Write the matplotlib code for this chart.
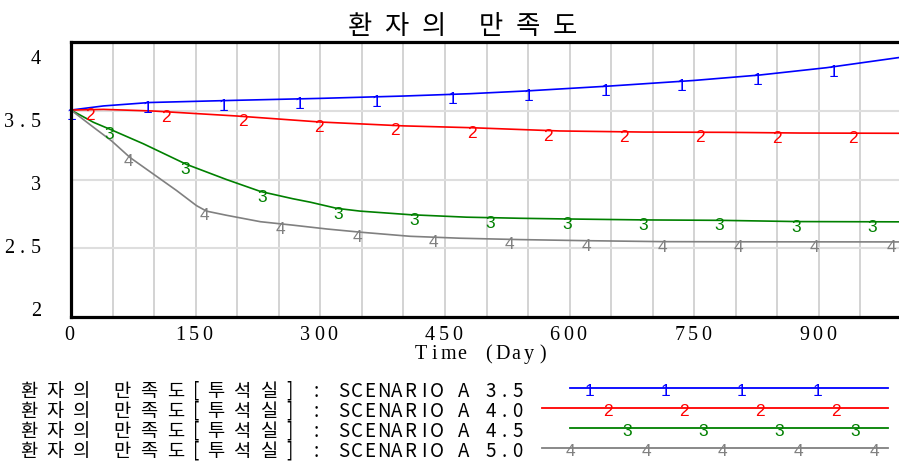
import numpy as np
import matplotlib
matplotlib.use("Agg")
import matplotlib.pyplot as plt
from matplotlib.transforms import IdentityTransform
from matplotlib.lines import Line2D
from matplotlib import font_manager

# ---- data -------------------------------------------------------------
title = "환자의 만족도"
x_label = "Time (Day)"
x_ticks = [0, 150, 300, 450, 600, 750, 900]
y_ticks = [2, 2.5, 3, 3.5, 4]
y_tick_labels = ["2", "2.5", "3", "3.5", "4"]

series_names = [
    "환자의 만족도[투석실] : SCENARIO A 3.5",
    "환자의 만족도[투석실] : SCENARIO A 4.0",
    "환자의 만족도[투석실] : SCENARIO A 4.5",
    "환자의 만족도[투석실] : SCENARIO A 5.0",
]
series_colors = ["#0000ff", "#ff0000", "#008000", "#808080"]

days_a35 = [0, 39, 95, 199, 300, 400, 480, 548, 649, 749, 829, 909, 1000]
sat_a35 = [3.505, 3.535, 3.56, 3.576, 3.59, 3.607, 3.624, 3.644, 3.68, 3.72,
           3.76, 3.813, 3.89]

days_a40 = [0, 39, 99, 199, 300, 400, 480, 588, 689, 789, 877, 1000]
sat_a40 = [3.505, 3.51, 3.498, 3.462, 3.418, 3.39, 3.377, 3.353, 3.345, 3.343,
           3.338, 3.336]

days_a45 = [0, 27, 49, 87, 139, 187, 228, 267, 288, 320, 348, 408, 476, 540,
            596, 690, 781, 874, 1000]
sat_a45 = [3.505, 3.416, 3.36, 3.26, 3.11, 3.0, 2.913, 2.86, 2.835, 2.79, 2.77,
           2.744, 2.726, 2.718, 2.713, 2.706, 2.703, 2.694, 2.692]

days_a50 = [0, 27, 49, 71, 99, 127, 151, 163, 187, 228, 267, 308, 348, 408,
            468, 540, 621, 712, 800, 1000]
sat_a50 = [3.505, 3.38, 3.28, 3.16, 3.04, 2.92, 2.81, 2.77, 2.74, 2.693, 2.668,
           2.64, 2.617, 2.587, 2.573, 2.563, 2.555, 2.548, 2.547, 2.546]

series_days = [days_a35, days_a40, days_a45, days_a50]
series_vals = [sat_a35, sat_a40, sat_a45, sat_a50]

# ---- figure -----------------------------------------------------------
W, H, DPI = 899, 464, 100
fig = plt.figure(figsize=(W / DPI, H / DPI), dpi=DPI)
fig.patch.set_facecolor("white")

ax = fig.add_axes([71 / W, (H - 318) / H, 831 / W, 275 / H])
ax.set_xlim(0, 1000)
ax.set_ylim(2, 4)
ax.set_xticks([])
ax.set_yticks([])
for side in ("left", "bottom", "top"):
    ax.spines[side].set_linewidth(2.3)
    ax.spines[side].set_color("black")
    ax.spines[side].set_zorder(5)
ax.spines["right"].set_visible(False)

# grid
for gx in np.arange(50, 1000, 50):
    ax.axvline(gx, color="#c8c8c8", lw=1.1, zorder=0)
for gy in y_ticks[1:-1]:
    ax.axhline(gy, color="#dedede", lw=1.5, zorder=0)

PX = 72 / DPI  # points per pixel


def is_hangul(c):
    return "\uac00" <= c <= "\ud7a3"


def spaced_text(x, yc, s, widths, size, family, color="black", ha="left",
                vfrac=0.36):
    """Draw text char by char on a fixed pitch, in display pixels.
    yc is the visual centre of the glyphs."""
    ws = [widths(c) for c in s]
    total = sum(ws)
    if ha == "center":
        x0 = x - total / 2
    elif ha == "right":
        x0 = x - total
    else:
        x0 = x
    size_px = size / PX
    base = yc - vfrac * size_px
    pos = x0
    for c, w in zip(s, ws):
        if c != " ":
            fam = family(c) if callable(family) else family
            fig.text(pos + w / 2, base, c, transform=IdentityTransform(),
                     ha="center", va="baseline", fontsize=size,
                     family=fam, color=color)
        pos += w


def axis_w(c):
    return 13.5


SERIF = ["Liberation Serif", "DejaVu Serif"]
AXIS_FS = 14.5

# x tick labels
for v in x_ticks:
    xd, yd = ax.transData.transform((v, 2))
    spaced_text(xd - 1.5, H - 333.5, str(v), axis_w, AXIS_FS, SERIF,
                ha="center", vfrac=0.33)

# y tick labels
ax_mid = ax.transData.transform((0, 3))[1]
for v, lab in zip(y_ticks, y_tick_labels):
    yd = ax.transData.transform((0, v))[1]
    yc = ax_mid + (yd - ax_mid) * 0.917 - 2.5
    spaced_text(42.5, yc, lab, axis_w, AXIS_FS, SERIF, ha="right",
                vfrac=0.33)

# axis label
spaced_text(482, H - 352.5, x_label, axis_w, AXIS_FS, SERIF, ha="center",
            vfrac=0.33)

# title
KR = ["Noto Sans CJK KR", "DejaVu Sans"]


def title_w(c):
    if is_hangul(c):
        return 37
    return 20


spaced_text(462, H - 24.5, title, title_w, 19, KR, ha="center", vfrac=0.37)

# ---- series -----------------------------------------------------------
MARK_STEP = 91.8
MARK_SHIFT = 23
for i, (d, v, col) in enumerate(zip(series_days, series_vals, series_colors)):
    ax.plot(d, v, color=col, lw=1.2, zorder=3, solid_joinstyle="miter")
    for t in np.arange(i * MARK_SHIFT, 1000, MARK_STEP):
        val = np.interp(t, d, v)
        ax.annotate(str(i + 1), (t, val), xytext=(0, -4.5),
                    textcoords="offset pixels", ha="center", va="center",
                    fontsize=12.5, family="Liberation Sans", color=col,
                    zorder=4, annotation_clip=True)


# ---- legend -----------------------------------------------------------
installed = {f.name for f in font_manager.fontManager.ttflist}
NARROW = ("Liberation Sans Narrow" if "Liberation Sans Narrow" in installed
          else "Noto Sans CJK KR")


def legend_w(c):
    if is_hangul(c):
        return 26.8
    return 13.4


def legend_family(c):
    if is_hangul(c):
        return KR
    return [NARROW, "Noto Sans CJK KR"]


legend_rows = [389, 409, 429, 449]
legend_line_start = [570, 542, 570, 542]
for i, (name, col) in enumerate(zip(series_names, series_colors)):
    yrow = H - legend_rows[i]
    spaced_text(15, yrow - 1, name, legend_w, 13.5, legend_family,
                vfrac=0.37)
    fig.add_artist(Line2D([legend_line_start[i] / W, 888 / W],
                          [yrow / H, yrow / H], transform=fig.transFigure,
                          color=col, lw=1.3))
    xm = 570 + ((i + 1) % 4) * 19
    while xm <= 888:
        fig.text(xm, yrow - 3, str(i + 1), transform=IdentityTransform(),
                 ha="center", va="center", fontsize=12.5,
                 family="Liberation Sans", color=col)
        xm += 76

fig.savefig("out.png", dpi=DPI)
